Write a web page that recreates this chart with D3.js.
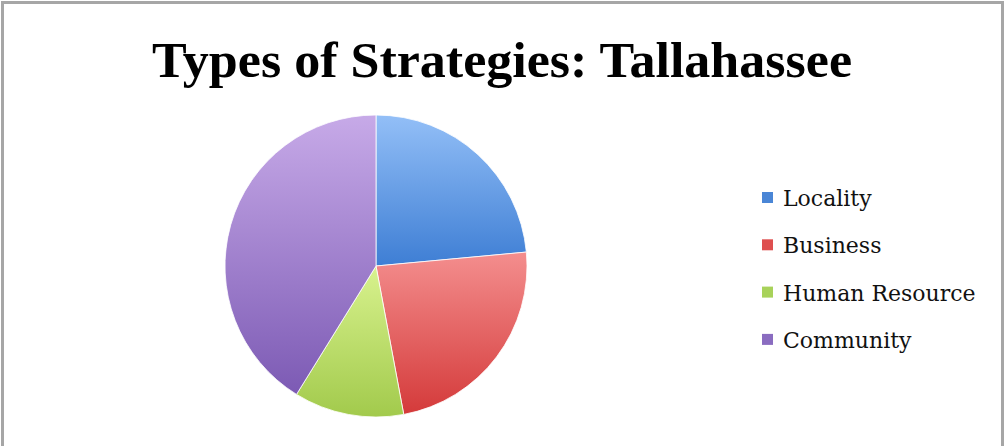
<!DOCTYPE html>
<html><head><meta charset="utf-8">
<script src="https://cdn.jsdelivr.net/npm/d3@7"></script>
<style>html,body{margin:0;padding:0;background:#fff;}</style>
</head><body>
<svg id="c" width="1005" height="446"></svg>
<script>
const categories = ["Locality", "Business", "Human Resource", "Community"];
const values = [4, 4, 2, 7];
const colorsTop = ["#93bff7", "#f48e8e", "#d8f28e", "#c7aae8"];
const colorsBottom = ["#3e7ed4", "#d43a3a", "#a2ca4c", "#7c5ab4"];
const legendColors = ["#4a86d6", "#de4f4f", "#a8d25a", "#8a6cc0"];
const title = "Types of Strategies: Tallahassee";

const svg = d3.select("#c");
svg.append("rect").attr("x", 2.5).attr("y", 2.5).attr("width", 1000).attr("height", 460)
  .attr("fill", "#fff").attr("stroke", "#a6a6a6").attr("stroke-width", 3);

const defs = svg.append("defs");
categories.forEach((c, i) => {
  const g = defs.append("linearGradient").attr("id", "g" + i)
    .attr("x1", 0).attr("y1", 0).attr("x2", 0).attr("y2", 1);
  g.append("stop").attr("offset", "0%").attr("stop-color", colorsTop[i]);
  g.append("stop").attr("offset", "100%").attr("stop-color", colorsBottom[i]);
});

svg.append("text").attr("x", 502).attr("y", 77).attr("text-anchor", "middle")
  .attr("font-family", "Liberation Serif, serif").attr("font-weight", "bold")
  .attr("font-size", 50).attr("textLength", 700).attr("lengthAdjust", "spacingAndGlyphs")
  .attr("fill", "#000").text(title);

const cx = 376, cy = 266, r = 151;
const pie = d3.pie().sort(null).value(d => d)(values);
const arc = d3.arc().innerRadius(0).outerRadius(r);
svg.append("g").attr("transform", `translate(${cx},${cy})`)
  .selectAll("path").data(pie).join("path")
  .attr("d", arc).attr("fill", (d, i) => `url(#g${i})`)
  .attr("stroke", "#fff").attr("stroke-width", 0.8);

const lg = svg.append("g");
categories.forEach((c, i) => {
  const y = 198 + i * 47.3;
  lg.append("rect").attr("x", 762).attr("y", y - 6).attr("width", 11).attr("height", 11)
    .attr("fill", legendColors[i]);
  lg.append("text").attr("x", 783).attr("y", y + 8)
    .attr("font-family", "DejaVu Serif, serif").attr("font-size", 22)
    .attr("fill", "#111").text(c);
});
</script>
</body></html>
